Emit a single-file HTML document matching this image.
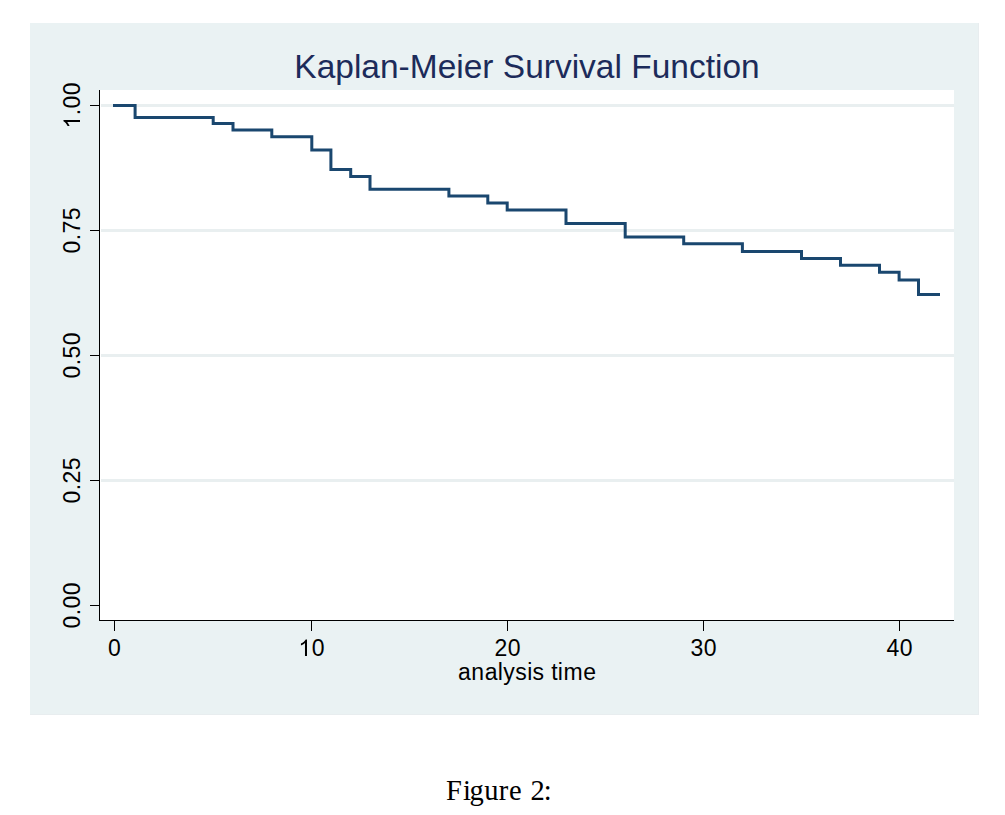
<!DOCTYPE html>
<html><head><meta charset="utf-8"><title>Kaplan-Meier Survival Function</title>
<style>
html,body{margin:0;padding:0;background:#fff;}
body{width:1005px;height:815px;overflow:hidden;position:relative;}
svg{position:absolute;left:0;top:0;}
.t{font-family:"Liberation Sans",sans-serif;font-size:23.0px;fill:#000;}
.title{font-family:"Liberation Sans",sans-serif;font-size:33.5px;fill:#1C2B5A;}
.cap{font-family:"Liberation Serif",serif;font-size:28.5px;fill:#000;}
</style></head>
<body>
<svg width="1005" height="815" viewBox="0 0 1005 815">
<rect x="30" y="23" width="949" height="692" fill="#EAF2F3"/>
<rect x="978" y="23" width="1" height="692" fill="#E8EDEF"/>
<rect x="30" y="714" width="949" height="1" fill="#E8EDEF"/>
<rect x="100" y="90" width="854" height="530" fill="#fff"/>
<line x1="101" x2="954" y1="105.5" y2="105.5" stroke="#E9EFF0" stroke-width="3"/><line x1="101" x2="954" y1="230.5" y2="230.5" stroke="#E9EFF0" stroke-width="3"/><line x1="101" x2="954" y1="355.5" y2="355.5" stroke="#E9EFF0" stroke-width="3"/><line x1="101" x2="954" y1="480.5" y2="480.5" stroke="#E9EFF0" stroke-width="3"/>
<path d="M114.5 105.5 H135.1 V117.5 H213.2 V123.5 H233.0 V130.0 H271.8 V136.8 H311.8 V149.9 H330.9 V169.4 H350.7 V176.5 H370.0 V189.2 H448.9 V196.0 H487.8 V203.0 H507.2 V210.0 H566.0 V223.5 H625.2 V237.0 H683.7 V243.8 H742.4 V251.6 H801.5 V258.4 H840.5 V265.3 H879.5 V272.3 H899.1 V279.9 H918.5 V294.4 H938.5" fill="none" stroke="#1A476F" stroke-width="3" stroke-linecap="square" stroke-linejoin="miter"/>
<line x1="99.5" x2="99.5" y1="90" y2="621" stroke="#000" stroke-width="1"/>
<line x1="99" x2="954" y1="620.5" y2="620.5" stroke="#000" stroke-width="1"/>
<line x1="90" x2="99" y1="105.5" y2="105.5" stroke="#000" stroke-width="1"/><line x1="90" x2="99" y1="230.5" y2="230.5" stroke="#000" stroke-width="1"/><line x1="90" x2="99" y1="355.5" y2="355.5" stroke="#000" stroke-width="1"/><line x1="90" x2="99" y1="480.5" y2="480.5" stroke="#000" stroke-width="1"/><line x1="90" x2="99" y1="605.5" y2="605.5" stroke="#000" stroke-width="1"/>
<line x1="114.5" x2="114.5" y1="620" y2="631" stroke="#000" stroke-width="1"/><line x1="311.5" x2="311.5" y1="620" y2="631" stroke="#000" stroke-width="1"/><line x1="507.5" x2="507.5" y1="620" y2="631" stroke="#000" stroke-width="1"/><line x1="703.5" x2="703.5" y1="620" y2="631" stroke="#000" stroke-width="1"/><line x1="899.5" x2="899.5" y1="620" y2="631" stroke="#000" stroke-width="1"/>
<g transform="translate(80 105.5) rotate(-90)"><text x="-9.869 -3.062 10.286" y="0" class="t">.00</text><path d="M763 0H583V1147Q518 1085 412 1023T223 930V1104Q374 1175 487 1276T647 1472H763Z" transform="translate(-23.077 0) scale(0.011230 -0.011230)" fill="#000"/></g><g transform="translate(80 230.5) rotate(-90)"><text x="-23.077 -9.869 -3.062 10.286" y="0" class="t">0.75</text></g><g transform="translate(80 355.5) rotate(-90)"><text x="-23.077 -9.869 -3.062 10.286" y="0" class="t">0.50</text></g><g transform="translate(80 480.5) rotate(-90)"><text x="-23.077 -9.869 -3.062 10.286" y="0" class="t">0.25</text></g><g transform="translate(80 605.5) rotate(-90)"><text x="-23.077 -9.869 -3.062 10.286" y="0" class="t">0.00</text></g>
<g transform="translate(114.5 656)"><text x="-6.396" y="0" class="t">0</text></g><g transform="translate(311.5 656)"><text x="0.278" y="0" class="t">0</text><path d="M763 0H583V1147Q518 1085 412 1023T223 930V1104Q374 1175 487 1276T647 1472H763Z" transform="translate(-13.070 0) scale(0.011230 -0.011230)" fill="#000"/></g><g transform="translate(507.5 656)"><text x="-13.070 0.278" y="0" class="t">20</text></g><g transform="translate(703.5 656)"><text x="-13.070 0.278" y="0" class="t">30</text></g><g transform="translate(899.5 656)"><text x="-13.070 0.278" y="0" class="t">40</text></g>
<g transform="translate(527 680)"><text x="-69.079 -55.732 -42.384 -29.203 -23.732 -11.732 0.129 5.600 17.489 24.156 30.797 36.434 56.288" y="0" class="t">analysis&#160;time</text></g>
<text transform="translate(527 78) scale(1 1.01)" text-anchor="middle" class="title">Kaplan-Meier Survival Function</text>
<text x="445.88 462.9 469.4 484.32 498.73 508.89 530.55 543.85" y="800" class="cap">Figure2:</text>
</svg>
</body></html>
